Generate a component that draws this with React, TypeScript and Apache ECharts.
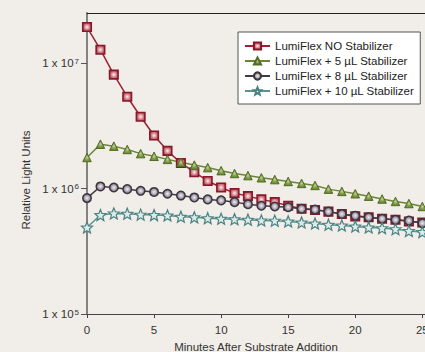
import React, { useEffect, useRef } from "react";
import * as echarts from "echarts";

const minutes = [0, 1, 2, 3, 4, 5, 6, 7, 8, 9, 10, 11, 12, 13, 14, 15, 16, 17, 18, 19, 20, 21, 22, 23, 24, 25];
const xTickLabels = [0, 5, 10, 15, 20, 25];
const seriesNames = [
  "LumiFlex NO Stabilizer",
  "LumiFlex + 5 µL Stabilizer",
  "LumiFlex + 8 µL Stabilizer",
  "LumiFlex + 10 µL Stabilizer",
];
const noStabilizer = [1.94e7, 1.28e7, 8.1e6, 5.4e6, 3.74e6, 2.65e6, 2.0e6, 1.6e6, 1.35e6, 1.15e6, 1.02e6, 9.2e5, 8.7e5, 8.2e5, 7.8e5, 7.3e5, 6.9e5, 6.75e5, 6.55e5, 6.27e5, 6.0e5, 5.9e5, 5.75e5, 5.65e5, 5.47e5, 5.37e5];
const stab5 = [1.77e6, 2.26e6, 2.18e6, 2.05e6, 1.9e6, 1.81e6, 1.71e6, 1.62e6, 1.54e6, 1.47e6, 1.39e6, 1.32e6, 1.27e6, 1.22e6, 1.18e6, 1.14e6, 1.1e6, 1.06e6, 9.9e5, 9.5e5, 9.1e5, 8.7e5, 8.26e5, 7.9e5, 7.6e5, 7.2e5];
const stab8 = [8.4e5, 1.04e6, 1.02e6, 9.9e5, 9.6e5, 9.4e5, 9.1e5, 8.8e5, 8.5e5, 8.2e5, 8.05e5, 7.8e5, 7.5e5, 7.3e5, 7.2e5, 7.1e5, 6.9e5, 6.8e5, 6.55e5, 6.27e5, 6.08e5, 5.9e5, 5.75e5, 5.63e5, 5.55e5, 5.3e5];
const stab10 = [4.9e5, 6.15e5, 6.34e5, 6.3e5, 6.2e5, 6.15e5, 6.1e5, 5.97e5, 5.9e5, 5.8e5, 5.75e5, 5.7e5, 5.65e5, 5.57e5, 5.55e5, 5.47e5, 5.37e5, 5.27e5, 5.15e5, 5.08e5, 4.99e5, 4.9e5, 4.84e5, 4.75e5, 4.6e5, 4.5e5];

const FONT = "'Liberation Sans', Arial, Helvetica, sans-serif";
const STAR = "path://M0,-10L2.6,-3.6L9.5,-3.1L4.2,1.4L5.9,8.1L0,4.4L-5.9,8.1L-4.2,1.4L-9.5,-3.1L-2.6,-3.6Z";

function pairs(vals: number[]) {
  return minutes.map((m, i) => [m, vals[i]]);
}

export default function App() {
  const ref = useRef<HTMLDivElement>(null);
  useEffect(() => {
    if (!ref.current) return;
    const chart = echarts.init(ref.current, null, { renderer: "svg" });
    const rg = (stops: [number, string][]) =>
      new echarts.graphic.RadialGradient(0.5, 0.5, 0.6, stops.map(([offset, color]) => ({ offset, color })));
    chart.setOption({
      animation: false,
      backgroundColor: "#f1ede8",
      textStyle: { fontFamily: FONT },
      grid: { left: 87, top: 13, right: 0, bottom: 38, containLabel: false, outerBoundsMode: "none" },
      legend: {
        orient: "vertical",
        left: 238,
        top: 32,
        padding: [8, 6, 7, 6],
        itemWidth: 25,
        itemHeight: 9,
        itemGap: 3,
        backgroundColor: "#ffffff",
        borderColor: "#555555",
        borderWidth: 1,
        borderRadius: 0,
        textStyle: { fontSize: 11.5, color: "#222", fontFamily: FONT, lineHeight: 12 },
        data: seriesNames,
      },
      xAxis: [
        {
          type: "value",
          min: 0,
          max: 25.2,
          interval: 5,
          name: "Minutes After Substrate Addition",
          nameLocation: "middle",
          nameGap: 27,
          nameTextStyle: { fontSize: 11.5, color: "#333", fontFamily: FONT },
          splitLine: { show: false },
          axisLine: { show: true, lineStyle: { color: "#444", width: 1.2 } },
          axisTick: { show: true, length: 4, lineStyle: { color: "#444" }, customValues: xTickLabels },
          axisLabel: { fontSize: 11.5, color: "#333", margin: 10, customValues: xTickLabels, fontFamily: FONT },
        },
        {
          type: "value",
          position: "top",
          min: 0,
          max: 25.2,
          axisLine: { show: true, lineStyle: { color: "#222", width: 1 } },
          axisTick: { show: false },
          axisLabel: { show: false },
          splitLine: { show: false },
        },
      ],
      yAxis: {
        type: "log",
        logBase: 10,
        min: 1e5,
        max: Math.pow(10, 7.4),
        splitLine: { show: false },
        minorTick: { show: false },
        axisLine: { show: true, lineStyle: { color: "#777", width: 1.8 } },
        axisTick: { show: true, length: 6, lineStyle: { color: "#555" } },
        axisLabel: {
          margin: 8,
          showMaxLabel: false,
          formatter: (v: number) => "{b|1 x 10}{s|" + Math.round(Math.log10(v)) + "}",
          rich: {
            b: { fontSize: 11.5, color: "#333", lineHeight: 12, fontFamily: FONT },
            s: { fontSize: 8, color: "#333", lineHeight: 9, verticalAlign: "top", padding: [0, 0, 0, 1], fontFamily: FONT },
          },
        },
      },
      graphic: [
        {
          type: "text",
          x: 26,
          y: 180,
          rotation: Math.PI / 2,
          style: {
            text: "Relative Light Units",
            fontSize: 11.5,
            fontFamily: FONT,
            fill: "#333",
            align: "center",
            verticalAlign: "middle",
          },
        },
      ],
      series: [
        {
          name: seriesNames[0],
          type: "line",
          data: pairs(noStabilizer),
          symbol: "rect",
          symbolSize: 8.5,
          lineStyle: { color: "#9b2230", width: 1.5 },
          itemStyle: {
            color: rg([[0, "#fdf2f3"], [0.45, "#d98e99"], [1, "#a8303f"]]),
            borderColor: "#861a28",
            borderWidth: 1.6,
          },
        },
        {
          name: seriesNames[1],
          type: "line",
          data: pairs(stab5),
          symbol: "triangle",
          symbolSize: 8.5,
          lineStyle: { color: "#6b8535", width: 1.5 },
          itemStyle: {
            color: rg([[0, "#c4d197"], [0.5, "#7f9a48"], [1, "#62802f"]]),
            borderColor: "#516c24",
            borderWidth: 1,
          },
        },
        {
          name: seriesNames[2],
          type: "line",
          data: pairs(stab8),
          symbol: "circle",
          symbolSize: 8.5,
          lineStyle: { color: "#403a46", width: 1.5 },
          itemStyle: {
            color: rg([[0, "#f2eef2"], [0.55, "#a69ca8"], [1, "#5e5663"]]),
            borderColor: "#3b3540",
            borderWidth: 1.5,
          },
        },
        {
          name: seriesNames[3],
          type: "line",
          data: pairs(stab10),
          symbol: STAR,
          symbolSize: 11,
          lineStyle: { color: "#5b9390", width: 1.5 },
          itemStyle: {
            color: "#dcebe8",
            borderColor: "#4a8282",
            borderWidth: 1.2,
          },
        },
      ],
    });
    return () => chart.dispose();
  }, []);
  return <div ref={ref} style={{ width: 425, height: 352, position: "fixed", left: 0, top: 0 }} />;
}
